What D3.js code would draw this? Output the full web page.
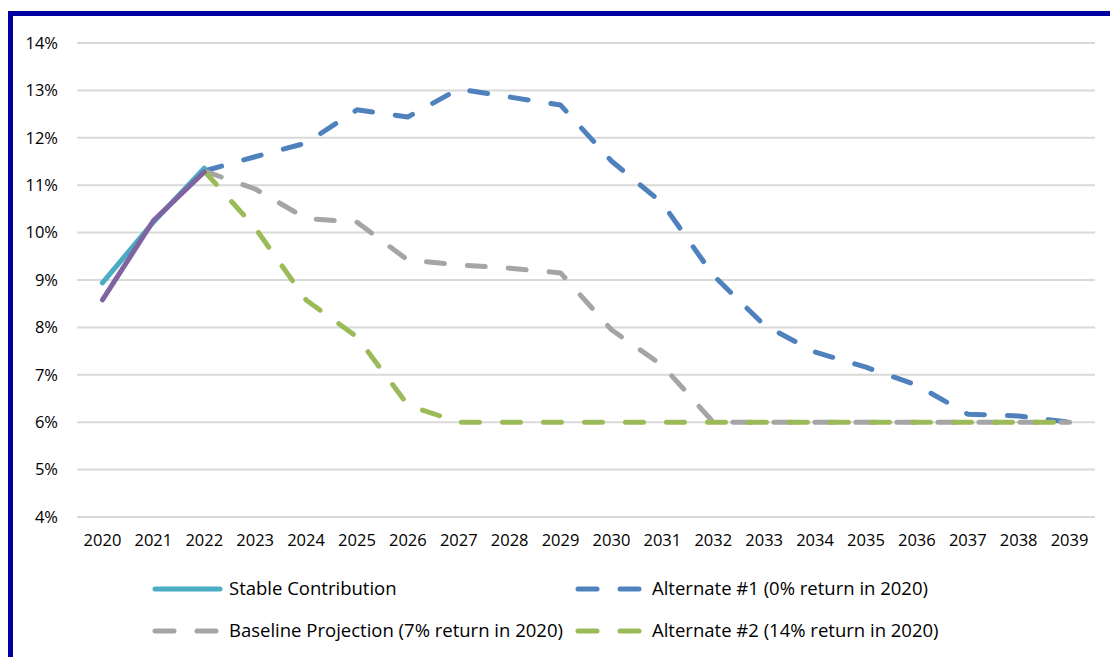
<!DOCTYPE html>
<html>
<head>
<meta charset="utf-8">
<script src="https://d3js.org/d3.v7.min.js"></script>
<style>
  body { margin: 0; background: #fff; }
  text { font-family: "Open Sans", "Noto Sans", sans-serif; fill: #000; }
</style>
</head>
<body>
<div id="chart"></div>
<script>
const years = d3.range(2020, 2040).map(String);
const yTicks = [4, 5, 6, 7, 8, 9, 10, 11, 12, 13, 14];

const stable = [8.94, 10.22, 11.36];
const purple = [8.58, 10.25, 11.28];
const alt1 = [null, null, 11.3, 11.6, 11.89, 12.59, 12.44, 13.03, 12.86, 12.69, 11.51, 10.62, 9.1, 8.05, 7.48, 7.16, 6.78, 6.17, 6.13, 6.0];
const baseline = [null, null, 11.3, 10.92, 10.3, 10.22, 9.42, 9.32, 9.25, 9.15, 7.95, 7.2, 6.0, 6.0, 6.0, 6.0, 6.0, 6.0, 6.0, 6.0];
const alt2 = [null, null, 11.3, 10.1, 8.58, 7.8, 6.36, 6.0, 6.0, 6.0, 6.0, 6.0, 6.0, 6.0, 6.0, 6.0, 6.0, 6.0, 6.0, 6.0];

const series = [
  {name: "Alternate #1 (0% return in 2020)", values: alt1, color: "#4f81bd", dash: "18,23"},
  {name: "Baseline Projection (7% return in 2020)", values: baseline, color: "#a5a5a5", dash: "18,23"},
  {name: "Alternate #2 (14% return in 2020)", values: alt2, color: "#9bbb59", dash: "18,23"},
  {name: "Stable Contribution", values: stable, color: "#4bacc6", dash: null},
  {name: "", values: purple, color: "#8064a2", dash: null}
];

const W = 1110, H = 657;
const svg = d3.select("#chart").append("svg").attr("width", W).attr("height", H);

// outer frame
svg.append("rect")
  .attr("x", 10.5).attr("y", 13.5)
  .attr("width", 1200).attr("height", 800)
  .attr("fill", "none").attr("stroke", "#0000a0").attr("stroke-width", 5);

const x = d3.scaleBand().domain(years).range([77, 1095]);
const y = d3.scaleLinear().domain([4, 14]).range([517, 43]);

// gridlines
svg.append("g")
  .selectAll("line").data(yTicks).enter().append("line")
  .attr("x1", 77).attr("x2", 1095)
  .attr("y1", d => y(d)).attr("y2", d => y(d))
  .attr("stroke", "#d9d9d9").attr("stroke-width", 2);

const yAxis = svg.append("g")
  .attr("transform", "translate(61,0)")
  .call(d3.axisLeft(y).tickValues(yTicks).tickFormat(d => d + "%").tickSize(0));
yAxis.select(".domain").remove();
yAxis.selectAll("text").attr("font-size", 16.5).attr("dx", 0).style("font-family", "Open Sans");

const xAxis = svg.append("g")
  .attr("transform", "translate(0,531)")
  .call(d3.axisBottom(x).tickSize(0));
xAxis.select(".domain").remove();
xAxis.selectAll("text").attr("font-size", 16.5).style("font-family", "Open Sans");

const line = d3.line()
  .defined(d => d != null)
  .x((d, i) => x(years[i]) + x.bandwidth() / 2)
  .y(d => y(d));

series.forEach(s => {
  svg.append("path")
    .attr("d", line(s.values))
    .attr("fill", "none")
    .attr("stroke", s.color)
    .attr("stroke-width", 5)
    .attr("stroke-linecap", "round")
    .attr("stroke-linejoin", "round")
    .attr("stroke-dasharray", s.dash);
});

// legend
const legendItems = [
  {s: series[3], lx: 152, ly: 589},
  {s: series[0], lx: 575, ly: 589},
  {s: series[1], lx: 152, ly: 631},
  {s: series[2], lx: 575, ly: 631}
];
const lg = svg.append("g");
legendItems.forEach(it => {
  lg.append("line")
    .attr("x1", it.lx + 3).attr("x2", it.lx + 68)
    .attr("y1", it.ly).attr("y2", it.ly)
    .attr("stroke", it.s.color).attr("stroke-width", 5)
    .attr("stroke-linecap", "round")
    .attr("stroke-dasharray", it.s.dash ? "19,23" : null);
  lg.append("text")
    .attr("x", it.lx + 77).attr("y", it.ly)
    .attr("dy", "0.35em")
    .attr("font-size", 18.5)
    .text(it.s.name);
});
</script>
</body>
</html>
